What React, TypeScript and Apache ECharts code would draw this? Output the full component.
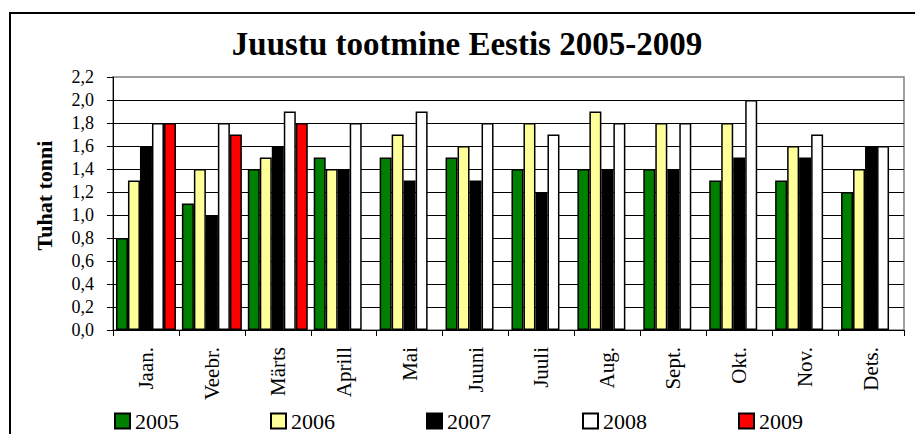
import React, { useEffect, useRef } from "react";
import * as echarts from "echarts";

const months = ["Jaan.", "Veebr.", "Märts", "Aprill", "Mai", "Juuni", "Juuli", "Aug.", "Sept.", "Okt.", "Nov.", "Dets."];
const years = ["2005", "2006", "2007", "2008", "2009"];
const v2005 = [0.8, 1.1, 1.4, 1.5, 1.5, 1.5, 1.4, 1.4, 1.4, 1.3, 1.3, 1.2];
const v2006 = [1.3, 1.4, 1.5, 1.4, 1.7, 1.6, 1.8, 1.9, 1.8, 1.8, 1.6, 1.4];
const v2007 = [1.6, 1.0, 1.6, 1.4, 1.3, 1.3, 1.2, 1.4, 1.4, 1.5, 1.5, 1.6];
const v2008 = [1.8, 1.8, 1.9, 1.8, 1.9, 1.8, 1.7, 1.8, 1.8, 2.0, 1.7, 1.6];
const v2009 = [1.8, 1.7, 1.8, null, null, null, null, null, null, null, null, null];
const colors = ["#008000", "#FFFF99", "#000000", "#FFFFFF", "#FF0000"];
const yTicks = { min: 0, max: 2.2, interval: 0.2 };

const FONT = "Liberation Serif";

export default function App() {
  const ref = useRef<HTMLDivElement>(null);
  useEffect(() => {
    if (!ref.current) return;
    const chart = echarts.init(ref.current, null, { renderer: "svg" });
    const seriesData = [v2005, v2006, v2007, v2008, v2009];
    chart.setOption({
      animation: false,
      backgroundColor: "#ffffff",
      textStyle: { fontFamily: FONT, color: "#000" },
      title: {
        text: "Juustu tootmine Eestis 2005-2009",
        left: 462,
        textAlign: "center",
        top: 22,
        textStyle: { fontFamily: FONT, fontWeight: "bold", fontSize: 33, color: "#000" },
      },
      graphic: [
        {
          type: "polyline",
          shape: { points: [[10, 440], [10, 13], [920, 13]] },
          style: { stroke: "#000", lineWidth: 2, fill: null },
          z: 0,
        },
      ],
      legend: {
        data: years,
        left: 114,
        top: 409,
        padding: 0,
        itemWidth: 15,
        itemHeight: 15,
        itemGap: 91,
        icon: "rect",
        textStyle: { fontFamily: FONT, fontSize: 22, color: "#000", lineHeight: 24 },
      },
      grid: {
        left: 113,
        right: 11,
        top: 77,
        bottom: 104,
        show: true,
        borderColor: "#808080",
        borderWidth: 1.5,
        backgroundColor: "transparent",
      },
      xAxis: {
        type: "category",
        data: months,
        axisLine: { lineStyle: { color: "#000", width: 1 } },
        axisTick: { show: true, length: 6, lineStyle: { color: "#000" } },
        axisLabel: {
          rotate: 90,
          margin: 17,
          interval: 0,
          fontFamily: FONT,
          fontSize: 21,
          color: "#000",
        },
      },
      yAxis: {
        type: "value",
        min: yTicks.min,
        max: yTicks.max,
        interval: yTicks.interval,
        name: "Tuhat tonni",
        nameLocation: "middle",
        nameGap: 58,
        nameTextStyle: { fontFamily: FONT, fontWeight: "bold", fontSize: 22, color: "#000", padding: [0, 0, 0, 16] },
        axisLine: { show: true, lineStyle: { color: "#000", width: 1 } },
        axisTick: { show: true, length: 6, lineStyle: { color: "#000" } },
        axisLabel: {
          margin: 19,
          fontFamily: FONT,
          fontSize: 18,
          color: "#000",
          formatter: (v: number) => v.toFixed(1).replace(".", ","),
        },
        splitLine: { show: true, showMaxLine: false, lineStyle: { color: "#000", width: 1 } },
      },
      series: years.map((y, i) => ({
        name: y,
        type: "bar",
        data: seriesData[i],
        barGap: "0%",
        barCategoryGap: "9%",
        itemStyle: { color: colors[i], borderColor: "#000", borderWidth: 1.5 },
      })),
    });
    return () => chart.dispose();
  }, []);
  return (
    <div
      ref={ref}
      style={{ position: "fixed", left: 0, top: 0, width: 915, height: 434 }}
    />
  );
}
